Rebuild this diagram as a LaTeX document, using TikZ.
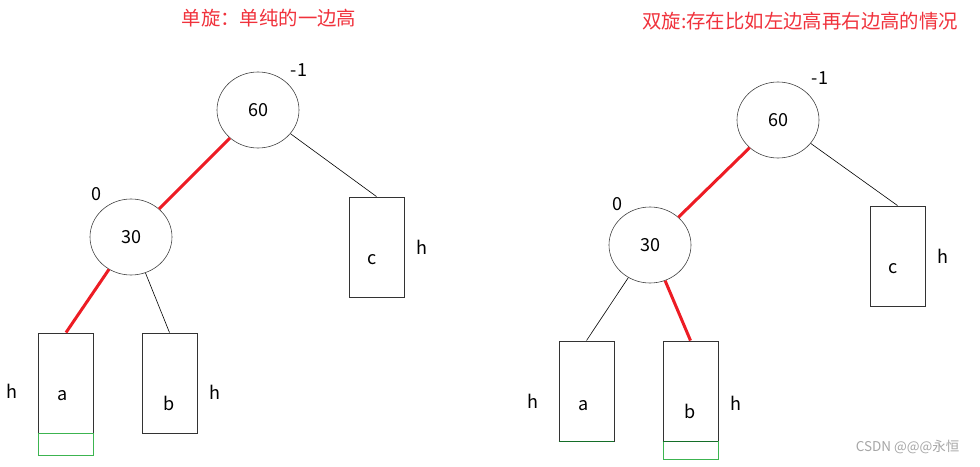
\documentclass[tikz,border=0pt]{standalone}
\usepackage{fontspec}
\setmainfont{Noto Sans CJK SC}
\usetikzlibrary{shapes.geometric,positioning}

\definecolor{hotred}{RGB}{237,28,36}
\definecolor{titlered}{RGB}{240,50,60}
\definecolor{lightgreen}{RGB}{60,180,80}
\definecolor{darkgreen}{RGB}{20,110,40}

\tikzset{
    keynode/.style={draw=black!75, ellipse, line width=0.6pt, minimum width=82pt, minimum height=76pt, inner sep=0pt, font=\fontsize{18}{20}\selectfont},
    subtree/.style={draw=black!80, rectangle, line width=0.9pt, minimum width=55pt, minimum height=100pt, inner sep=0pt},
    tag/.style={font=\fontsize{18}{20}\selectfont, inner sep=0pt},
    heavy/.style={draw=hotred, line width=3pt},
    light/.style={draw=black, line width=0.6pt},
    extrabox/.style={draw=lightgreen, line width=0.8pt, rectangle, minimum width=55pt, minimum height=22pt, inner sep=0pt},
    title/.style={text=titlered, font=\fontsize{19.4}{21}\selectfont, inner sep=0pt}
}

\begin{document}
\begin{tikzpicture}[x=1pt, y=-1pt]
    \useasboundingbox (0,0) rectangle (980,466);
    % Titles
    \node[title] (t1) at (269,18) {单旋：单纯的一边高};
    \node[title, anchor=west] (t2) at (642,21) {双旋:存在比如左边高再右边高的情况};

    % Left tree: single rotation
    \node[keynode] (l60) at (258,110) {60};
    \node[keynode] (l30) at (131,237) {30};
    \node[subtree, label={[tag, xshift=-4pt, yshift=-13pt]center:c}] (lc) at (376.5,247) {};
    \node[subtree, label={[tag, xshift=-3pt, yshift=-13pt]center:a}] (la) at (66,383) {};
    \node[subtree, label={[tag, yshift=-20pt]center:b}] (lb) at (169.5,383) {};
    \node[extrabox, below=0pt of la] (lg) {};
    \node[tag] (l60b) at (299,70) {-1};
    \node[tag] (l30b) at (96,194) {0};
    \node[tag, right=12pt of lc] (lch) {h};
    \node[tag, left=20pt of la, yshift=-8pt] (lah) {h};
    \node[tag, right=12pt of lb, yshift=-9pt] (lbh) {h};
    % Draw edges
    \draw[heavy] (l30) -- (l60);
    \draw[heavy] (l30) -- (la.north);
    \draw[light] (l60) -- (lc.north);
    \draw[light] (l30) -- (lb.north);

    % Right tree: double rotation
    \node[keynode] (r60) at (778,120) {60};
    \node[keynode] (r30) at (650,245) {30};
    \node[subtree, label={[tag, xshift=-4pt, yshift=-13pt]center:c}] (rc) at (897.5,256) {};
    \node[subtree, label={[tag, xshift=-3pt, yshift=-15pt]center:a}] (ra) at (586.5,391) {};
    \node[subtree, label={[tag, yshift=-20pt]center:b}] (rb) at (690.5,391) {};
    \node[extrabox, below=0pt of rb, minimum height=18pt] (rg) {};
    \node[tag] (r60b) at (820,78) {-1};
    \node[tag] (r30b) at (617,204) {0};
    \node[tag, right=12pt of rc] (rch) {h};
    \node[tag, left=20pt of ra, yshift=-10pt] (rah) {h};
    \node[tag, right=12pt of rb, yshift=-12pt] (rbh) {h};
    % Draw edges
    \draw[heavy] (r30) -- (r60);
    \draw[heavy] (r30) -- (rb.north);
    \draw[light] (r60) -- (rc.north);
    \draw[light] (r30) -- (ra.north);
    \draw[darkgreen, line width=1.8pt] (ra.south west) -- (ra.south east);
    \draw[darkgreen, line width=1.8pt] (rb.south west) -- (rb.south east);

    % Watermark
    \node[text=black!35, font=\fontsize{13.5}{15}\selectfont, anchor=east] (mark) at (963,447) {CSDN @@@永恒};
\end{tikzpicture}
\end{document}
